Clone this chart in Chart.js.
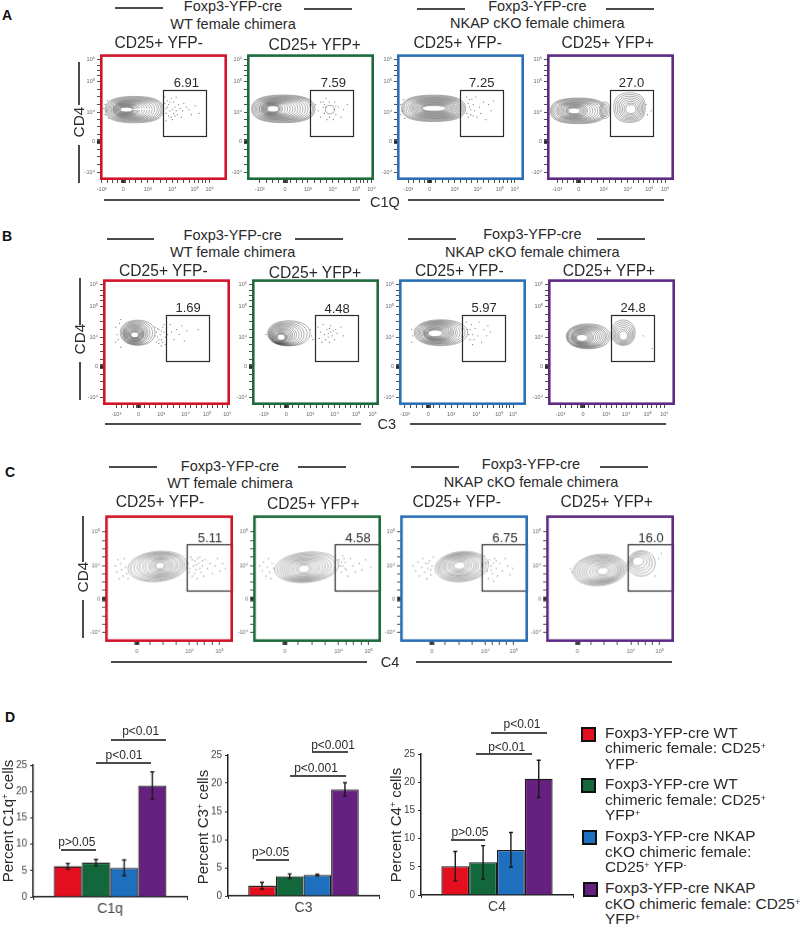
<!DOCTYPE html>
<html>
<head>
<meta charset="utf-8">
<title>Complement staining in chimeras</title>
<script src="https://cdn.jsdelivr.net/npm/chart.js@4/dist/chart.umd.min.js"></script>
<style>
html, body { margin: 0; padding: 0; background: #fff; }
#page { position: relative; width: 800px; height: 927px; overflow: hidden; font-family: "Liberation Sans", Arial, sans-serif; color: #2a2a2a; }
#page canvas { position: absolute; }
.txt { position: absolute; white-space: nowrap; transform: translate(-50%, -50%); line-height: 1; }
.txt sup, .leg sup { font-size: 58%; line-height: 0; vertical-align: 0.5em; }
.rule { position: absolute; background: #4a4a4a; }
.leg { position: absolute; left: 605px; font-size: 15.4px; line-height: 15.6px; white-space: nowrap; }
.sq { position: absolute; box-sizing: border-box; width: 15px; height: 15px; border: 2.5px solid #111; }
</style>
</head>
<body>
<div id="page"></div>
<script>
// ---- panel D values ----
const groupLabels = ['WT YFP-', 'WT YFP+', 'NKAP cKO YFP-', 'NKAP cKO YFP+'];
const c1qValues = [5.8, 6.5, 5.5, 21.1];
const c1qErrors = [0.55, 0.6, 1.5, 2.6];
const c3Values = [1.8, 3.5, 3.7, 18.9];
const c3Errors = [0.6, 0.4, 0.15, 1.2];
const c4Values = [5.1, 5.8, 8.0, 20.6];
const c4Errors = [2.6, 2.95, 3.07, 3.3];
const barColors = ['#e30f1e', '#12683a', '#1f6fbf', '#66207f'];

// ---- flow panels: gate percentages, A to C, left to right ----
const gateA = ['6.91', '7.59', '7.25', '27.0'];
const gateB = ['1.69', '4.48', '5.97', '24.8'];
const gateC = ['5.11', '4.58', '6.75', '16.0'];
const frameColors = ['#d2142a', '#1d6b3d', '#2b70b5', '#5e2a84'];

// tick positions on the 0-100 display axis
const yTicksAB = [95.5, 78.5, 54, 30.4, 6.3];
const yLabelsAB = ['10⁶', '10⁵', '10⁴', '0', '-10⁴'];
const yTicksC = [87, 60.3, 34, 7.3];
const yLabelsC = ['10⁵', '10⁴', '0', '-10⁴'];
const xLabelsAB = ['-10³', '0', '10³', '10⁴', '10⁵', '10⁶'];
const xLabelsC = ['0', '10⁴', '10⁵'];
const xTicksA = [[1.3, 18.4, 37.6, 57, 74.5, 86.3], [10, 30, 48, 67.5, 86, 98], [8.9, 25.8, 45.3, 63.5, 81, 92.7], [8, 25, 44.5, 63.6, 80.6, 93]];
const xTicksB = [[10.5, 28, 45.8, 65, 82, 97.9], [9.2, 27, 45.8, 65, 82, 95], [4.7, 23, 41, 61, 79, 90], [9.7, 27.5, 45.8, 61.5, 78.5, 91.6]];
const xTicksC = [[24.9, 66, 89.5], [24.9, 66.8, 90.3], [24.8, 66.6, 88.8], [24.5, 66.3, 88.8]];

// gates: x0, x1, y0, y1
const gateBoxAB = [49.4, 83.2, 35.2, 71.4];
const gateBoxC = [63.4, 98.7, 40.5, 77];
const gateTextA = [[68, 76.7], [68, 76.7], [66.7, 76.7], [66.5, 76.7]];
const gateTextB = [[67, 77], [67, 76], [67, 76.5], [67, 76.5]];
const gateTextC = [[82, 82], [82, 82], [82, 82], [82, 82]];

// contour rings: cx, cy, rx, ry
const a1Rings = [[27,56,23,10.5],[27,56,22,9.8],[27,56,21,9.2],[26.75,56,19.75,8.6],[26.5,56,18.5,8],[26,56,17,7.5],[25.5,56,15.5,7],[24.75,56,14.25,6.5],[24,56,13,6],[23.25,56,11.75,5.5],[22.5,56,10.5,5],[21.75,56,9.25,4.6],[21.5,56,8.5,4.2],[21.25,56,7.75,3.8],[21,56,7,3.4],[20.75,56,6.25,3],[20.75,56,5.75,2.6],[20.75,56,5.25,2.2],[20.75,56,4.75,1.8]];
const a2Rings = [[28.6,56.6,24.9,11],[28.5,56.6,24,10.4],[28.5,56.6,23,9.8],[28.25,56.6,21.75,9.2],[27.75,56.6,20.25,8.7],[27.25,56.6,18.75,8.2],[26.75,56.6,17.25,7.7],[26,56.6,16,7.2],[25.5,56.6,14.5,6.7],[24.75,56.6,13.25,6.2],[24,56.6,12,5.7],[23.25,56.6,10.75,5.2],[22.5,56.6,9.5,4.8],[21.75,56.6,8.25,4.4],[21,56.6,7,4],[20.75,56.6,6.25,3.6],[20.5,56.6,5.5,3.2],[20.5,56.6,5,2.8],[20.5,56.6,4.5,2.4],[65.3,56,3.4,3.4]];
const a3Rings = [[28.8,57,25.2,10.5],[28.75,57,24.25,9.9],[28.75,57,23.25,9.3],[29,57,22,8.7],[29.25,57,20.75,8.2],[29.5,57,19.5,7.7],[29.5,57,18.5,7.2],[29.5,57,17.5,6.7],[29.5,57,16.5,6.2],[29.5,57,15.5,5.7],[29.5,57,14.5,5.2],[29.5,57,13.5,4.7],[29.5,57,12.5,4.2],[29.5,57,11.5,3.7],[29.5,57,10.5,3.2],[29.25,57,9.75,2.7],[29,57,9,2.2]];
const a4Rings = [[24.8,55,22.2,10.2],[24.75,55,21.25,9.6],[24.75,55,20.25,9],[24.75,55,19.25,8.4],[24.5,55,17.5,7.8],[24,55,16,7.2],[23.5,55,14.5,6.7],[23,55,13,6.2],[22.5,55,11.5,5.7],[22,55,10,5.2],[22,55,9,4.7],[22,55,8,4.2],[22,55,7,3.7],[21.75,55,6.25,3.2],[21.5,55,5.5,2.7],[21.5,55,4.5,2.2],[45.5,55.5,3.8,6.5],[45.5,55.5,2.6,5],[65,57.6,12.4,11.8],[65.2,57.4,11.2,10.6],[65.4,57.2,10,9.4],[65.6,57,8.8,8.2],[65.7,56.8,7.6,7],[65.8,56.6,6.4,5.8],[65.9,56.5,5.2,4.6],[66,56.4,4,3.5]];
const b1Rings = [[27.3,57.5,13.7,10],[26.75,57.3,12.25,9.4],[26.25,57.2,10.75,8.8],[25.75,57,9.75,8.2],[25.5,56.9,9,7.6],[25.25,56.8,8.25,7],[25,56.7,7.5,6.5],[25,56.6,7,6],[25,56.5,6.5,5.5],[25,56.4,6,5],[25,56.3,5.5,4.5],[25,56.2,5,4],[25,56.1,4.5,3.5],[25,56,4,3],[25,55.9,3.5,2.6],[25,55.8,3,2.2]];
const b2Rings = [[29,57,16.7,10],[28.25,56.7,15.25,9.4],[27.25,56.4,13.75,8.8],[26.5,56.2,12.5,8.2],[25.75,56,11.25,7.7],[25,55.7,10,7.2],[24.5,55.5,9,6.7],[24,55.2,8,6.2],[23.75,55,7.25,5.7],[23.5,54.8,6.5,5.2],[23.25,54.6,5.75,4.7],[23,54.4,5,4.2],[23,54.2,4.5,3.7],[23,54,4,3.2],[23,54,3.5,2.8],[23,54,3,2.4]];
const b3Rings = [[33,57.5,21,10.3],[32.5,57.5,19.5,9.7],[32,57.5,18,9.1],[31.5,57.5,16.5,8.6],[31,57.5,15,8.1],[30.75,57.5,13.75,7.6],[30.5,57.5,12.5,7.1],[30.5,57.5,11.5,6.6],[30.25,57.4,10.75,6.1],[30,57.3,10,5.6],[29.75,57.2,9.25,5.1],[29.5,57.1,8.5,4.6],[29.25,57,7.75,4.1],[29,57,7,3.6],[28.75,57,6.25,3.1],[28.5,57,5.5,2.6]];
const b4Rings = [[31.7,54.6,17.3,9.9],[31.25,54.5,16.25,9.3],[30.75,54.4,15.25,8.7],[30.5,54.3,14.5,8.2],[30.25,54.2,13.25,7.7],[30,54.1,12,7.2],[29.5,54,11,6.7],[29,54,10,6.2],[28.5,53.9,9,5.7],[28,53.8,8,5.2],[27.75,53.7,7.25,4.7],[27.5,53.6,6.5,4.2],[27.25,53.5,5.75,3.7],[27,53.4,5,3.2],[26.75,53.4,4.25,2.7],[59.2,57.5,9.4,10.1],[59.3,57.1,8.3,9],[59.3,56.7,7.3,7.9],[59.3,56.3,6.3,6.8],[59.4,55.9,5.3,5.7],[59.4,55.5,4.3,4.6],[59.4,55.2,3.3,3.5]];
const c1Rings = [[41,59.6,23,11.8],[41,59.6,21,11],[41.5,59.8,19,10.2],[42,60,17,9.4],[42,60,15,8.6],[42.5,60,13,7.8],[42.5,60,11,7],[43,60,9,6.2],[43,60.2,7.5,5.4],[43,60.3,6,4.5],[43,60.3,4.5,3.5],[43,60.3,3.5,2.6]];
const c2Rings = [[41.9,59,25,11.8],[41.5,58.8,22.5,11],[41,58.6,20,10.2],[40.7,58.4,18,9.4],[40.5,58.2,16,8.6],[40.3,58,14,7.8],[40,58,12,7],[40,57.8,10,6.2],[39.8,57.7,8,5.2],[39.8,57.7,6,4.2],[39.8,57.7,4.5,3.2]];
const c3Rings = [[48.2,59.5,20.8,11.8],[48,59.5,19,11],[47.7,59.7,17.5,10.2],[47.5,59.8,16,9.4],[47.2,60,14,8.6],[47,60,12.5,7.8],[46.8,60,11,7],[46.7,60.2,9,6],[46.5,60.3,7.5,5],[46.5,60.3,6,4],[46.5,60.3,4.5,3]];
const c4Rings = [[42,56.8,21,12.2],[42,56.8,19.5,11.4],[42.3,56.7,18,10.6],[42.6,56.6,16.5,9.8],[43,56.4,15,9],[43.3,56.3,13.5,8.2],[43.6,56.2,12,7.4],[44,56,10,6.4],[44.2,56,8,5.4],[44.4,56,6,4.2],[44.4,56,4.5,3],[74.5,62,10.8,10],[74,62.5,9,8.5],[73.5,63,7.5,6.8],[72.8,63.4,6,5.2],[72,63.7,4.5,3.6]];

// white hot centres: cx, cy, rx, ry
const a1Core = [[20.5,56,4,1.1],[33,56.2,8,0.7]];
const a2Core = [[20.7,56.5,2.6,1.2],[65.3,56,2.6,2.6]];
const a3Core = [[25,57,5,0.9],[33,57,5,0.6]];
const a4Core = [[21,55,2.6,1],[66,56.3,1.2,1.1]];
const b1Core = [[25.4,55.8,1,1.2]];
const b2Core = [[23.6,54,1.3,0.8]];
const b3Core = [[29,57,3,0.8]];
const b4Core = [[28.3,53.4,2.2,0.8],[59.4,55,1,0.9]];
const c1Core = [[43,60.3,2,1.1]];
const c2Core = [[39.8,57.7,2.2,1.1]];
const c3Core = [[46.5,60.3,1.8,1]];
const c4Core = [[44.4,56,1.5,1],[71.8,63.7,2.2,1.4]];

// single events outside the contours, read by eye
const a1Dots = [[51,66],[53,63],[54,60],[52,57],[55,55],[54,51],[56,50],[58,62],[59,58],[60,55],[58,53],[61,52],[62,60],[63,57],[65,55],[64,50],[66,61],[68,58],[70,56],[72,52],[75,59],[78,53],[56,65],[60,66],[50,49],[52,47],[51,61],[52,53],[53,58],[55,62],[57,56],[57,48],[59,51],[4,60],[5,55],[4,52],[6,63],[3,57],[7,49]];
const a2Dots = [[54,60],[56,55],[58,62],[58,50],[60,58],[61,53],[62,65],[63,48],[69,62],[70,52],[72,58],[74,50],[76,56],[79,60],[68,48],[65,62],[65,50],[62,58],[60,62],[61,60],[69,56],[70,59]];
const a3Dots = [[55,66],[56,61],[57,58],[55,53],[58,52],[59,64],[60,60],[61,55],[63,50],[62,66],[65,58],[66,53],[68,62],[70,48],[72,60],[74,55],[76,63],[56,50],[57,64],[58,56],[60,51],[3,60],[4,55],[3,52],[5,64],[6,49]];
const a4Dots = [[78,60],[79,52],[50,48],[82,55]];
const b1Dots = [[41,62],[42,58],[43,54],[44,60],[45,56],[46,52],[47,62],[48,58],[49,54],[42,50],[44,49],[46,47],[41,55],[43,61],[44,52],[46,59],[47,50],[48,64],[49,48],[50,60],[51,56],[53,64],[54,58],[56,52],[58,60],[60,56],[62,63],[64,51],[66,59],[75,60],[10,62],[11,56],[12,52],[13,65],[10,50],[14,46],[14,68]];
const b2Dots = [[46,60],[47,55],[48,52],[50,58],[52,62],[53,53],[54,58],[55,50],[56,64],[57,56],[58,52],[59,60],[60,57],[61,50],[62,63],[63,55],[64,59],[65,52],[66,60],[67,57],[70,62],[72,55],[60,54],[62,58],[61,61],[11,56]];
const b3Dots = [[53,66],[54,60],[55,56],[56,52],[57,64],[58,48],[60,61],[62,55],[63,66],[65,50],[67,60],[69,55],[70,63],[72,58],[56,60],[58,56],[59,52],[10,60],[11,55],[10,50]];
const b4Dots = [[75,55],[82,45]];
const c1Dots = [[8,60],[9,55],[10,65],[11,50],[12,62],[13,57],[14,52],[15,66],[16,59],[17,54],[18,50],[65,62],[66,55],[67,67],[68,52],[69,60],[70,64],[71,57],[72,50],[73,62],[74,67],[75,55],[76,60],[77,52],[78,65],[80,58],[82,62],[84,54],[86,60],[88,66],[90,56],[92,62],[94,58],[66,58],[68,65],[70,54],[71,61],[72,66],[74,58],[76,64]];
const c2Dots = [[5,60],[7,56],[8,63],[10,52],[11,59],[12,66],[13,55],[14,50],[15,62],[16,58],[67,65],[68,60],[69,55],[70,68],[72,63],[73,57],[74,52],[76,66],[78,60],[80,55],[83,62],[85,57],[88,65],[92,59],[69,63],[70,60],[71,66],[72,58]];
const c3Dots = [[10,60],[12,56],[14,63],[15,52],[17,59],[18,66],[19,55],[20,62],[21,50],[22,58],[23,64],[24,53],[25,60],[26,67],[22,62],[24,57],[66,68],[67,62],[68,56],[69,50],[70,65],[71,60],[72,54],[73,48],[74,66],[75,58],[76,52],[78,62],[80,56],[82,66],[84,60],[86,53],[88,58],[69,63],[71,57],[73,62],[75,64]];
const c4Dots = [[19,58],[20,55],[88,66],[90,70],[85,52]];

// ---- layout (pixels on the page) ----
const frameX = [[100, 247, 397, 547], [102.7, 251.7, 399, 548.3], [105, 253.3, 400, 546]];
const frameY = [53, 278.3, 514.3];
const frameSize = [127, 127, 127.5];
const ringRoundness = [0.68, 0.6, 0.56];
const ringTilt = [0, 0, -0.1];
const axisLeft = 22, axisBottom = 18, padTop = 4, padRight = 6;

const page = document.getElementById('page');

function addText(x, y, html, size, extra) {
    const d = document.createElement('div');
    d.className = 'txt';
    d.innerHTML = html;
    d.style.left = x + 'px';
    d.style.top = y + 'px';
    d.style.fontSize = size + 'px';
    if (extra) Object.assign(d.style, extra);
    page.appendChild(d);
}

function hRule(x1, x2, y) {
    const d = document.createElement('div');
    d.className = 'rule';
    d.style.cssText = `left:${x1}px;top:${Math.round(y - 1)}px;width:${x2 - x1}px;height:2px`;
    page.appendChild(d);
}

function vRule(x, y1, y2) {
    const d = document.createElement('div');
    d.className = 'rule';
    d.style.cssText = `left:${Math.round(x - 1)}px;top:${y1}px;width:2px;height:${y2 - y1}px`;
    page.appendChild(d);
}

function addCanvas(x, y, w, h) {
    const c = document.createElement('canvas');
    c.width = w;
    c.height = h;
    c.style.cssText = `left:${x}px;top:${y}px;width:${w}px;height:${h}px`;
    page.appendChild(c);
    return c.getContext('2d');
}

function blobPath(ctx, x, y, rx, ry, k, tilt) {
    ctx.save();
    ctx.translate(x, y);
    ctx.rotate(tilt);
    ctx.beginPath();
    ctx.moveTo(-rx, 0);
    ctx.bezierCurveTo(-rx, -k * ry, -k * rx, -ry, 0, -ry);
    ctx.bezierCurveTo(k * rx, -ry, rx, -k * ry, rx, 0);
    ctx.bezierCurveTo(rx, k * ry, k * rx, ry, 0, ry);
    ctx.bezierCurveTo(-k * rx, ry, -rx, k * ry, -rx, 0);
    ctx.closePath();
    ctx.restore();
}

// draws rings, gate and frame through the chart's scales
const flowPlugin = {
    id: 'flowPlugin',
    afterDatasetsDraw(chart, args, o) {
        const ctx = chart.ctx, sx = chart.scales.x, sy = chart.scales.y, a = chart.chartArea;
        const px = v => sx.getPixelForValue(v), py = v => sy.getPixelForValue(v);
        ctx.save();
        ctx.strokeStyle = 'rgba(50,50,50,0.7)';
        ctx.lineWidth = 0.55;
        o.rings.forEach(([cx, cy, rx, ry]) => {
            blobPath(ctx, px(cx), py(cy), px(cx + rx) - px(cx), py(cy) - py(cy + ry), o.roundness, o.tilt);
            ctx.stroke();
        });
        ctx.fillStyle = '#fff';
        o.core.forEach(([cx, cy, rx, ry]) => {
            blobPath(ctx, px(cx), py(cy), px(cx + rx) - px(cx), py(cy) - py(cy + ry), 0.56, o.tilt);
            ctx.fill();
        });
        const [x0, x1, y0, y1] = o.gate;
        const gx = Math.round(px(x0)) + 0.5, gy = Math.round(py(y1)) + 0.5;
        ctx.strokeStyle = '#2b2b2b';
        ctx.lineWidth = 1.2;
        ctx.strokeRect(gx, gy, Math.round(px(x1) - px(x0)), Math.round(py(y0) - py(y1)));
        ctx.fillStyle = '#2a2a2a';
        ctx.font = '13px "Liberation Sans"';
        ctx.textAlign = 'center';
        ctx.textBaseline = 'middle';
        ctx.fillText(o.label, px(o.labelAt[0]), py(o.labelAt[1]));
        ctx.strokeStyle = o.color;
        ctx.lineWidth = 2.6;
        ctx.strokeRect(a.left + 1.3, a.top + 1.3, a.right - a.left - 2.6, a.bottom - a.top - 2.6);
        ctx.restore();
    }
};

function minorTicks(majors, zero) {
    const out = majors.slice();
    for (let i = 0; i < majors.length - 1; i++) {
        const step = (majors[i + 1] - majors[i]) / 4;
        for (let k = 1; k < 4; k++) out.push(majors[i] + step * k);
    }
    [-1.6, -0.9, -0.3, 0.3, 0.9, 1.6].forEach(d => out.push(zero + d));
    return out;
}

function flowPanel(x, y, size, p) {
    const xLabelFor = new Map(p.xTicks.map((v, i) => [v, p.xLabels[i]]));
    const yLabelFor = new Map(p.yTicks.map((v, i) => [v, p.yLabels[i]]));
    const xAll = minorTicks(p.xTicks, p.xZero);
    const yAll = minorTicks(p.yTicks, p.yZero);
    const w = size + axisLeft + padRight, h = size + axisBottom + padTop;
    const ctx = addCanvas(x - axisLeft, y - padTop, w, h);
    const tickFont = { family: 'Liberation Sans', size: 5.5 };
    new Chart(ctx, {
        type: 'scatter',
        data: { datasets: [{ data: p.dots.map(([a, b]) => ({ x: a, y: b })), pointRadius: 0.6, pointBackgroundColor: '#777', pointBorderWidth: 0 }] },
        options: {
            responsive: false,
            animation: false,
            layout: { autoPadding: false, padding: { top: padTop, right: padRight, left: 0, bottom: 0 } },
            plugins: { legend: { display: false }, tooltip: { enabled: false }, flowPlugin: p.draw },
            scales: {
                x: {
                    type: 'linear', min: 0, max: 100,
                    afterBuildTicks: s => { s.ticks = xAll.map(v => ({ value: v })); },
                    afterFit: s => { s.height = axisBottom; },
                    border: { display: false },
                    grid: { drawOnChartArea: false, tickLength: 3, color: '#222', lineWidth: 0.8 },
                    ticks: { autoSkip: false, maxRotation: 0, minRotation: 0, padding: 3, color: '#666', font: tickFont, callback: v => xLabelFor.get(v) || '' }
                },
                y: {
                    type: 'linear', min: 0, max: 100,
                    afterBuildTicks: s => { s.ticks = yAll.map(v => ({ value: v })); },
                    afterFit: s => { s.width = axisLeft; },
                    border: { display: false },
                    grid: { drawOnChartArea: false, tickLength: 3, color: '#222', lineWidth: 0.8 },
                    ticks: { autoSkip: false, maxRotation: 0, minRotation: 0, padding: 2, color: '#666', font: tickFont, callback: v => yLabelFor.get(v) || '' }
                }
            }
        },
        plugins: [flowPlugin]
    });
}

const ringsByRow = [[a1Rings, a2Rings, a3Rings, a4Rings], [b1Rings, b2Rings, b3Rings, b4Rings], [c1Rings, c2Rings, c3Rings, c4Rings]];
const coreByRow = [[a1Core, a2Core, a3Core, a4Core], [b1Core, b2Core, b3Core, b4Core], [c1Core, c2Core, c3Core, c4Core]];
const dotsByRow = [[a1Dots, a2Dots, a3Dots, a4Dots], [b1Dots, b2Dots, b3Dots, b4Dots], [c1Dots, c2Dots, c3Dots, c4Dots]];
const gatesByRow = [gateA, gateB, gateC];
const gateTextByRow = [gateTextA, gateTextB, gateTextC];
const xTicksByRow = [xTicksA, xTicksB, xTicksC];

for (let row = 0; row < 3; row++) {
    for (let col = 0; col < 4; col++) {
        const isC = row === 2;
        const xTicks = xTicksByRow[row][col];
        flowPanel(frameX[row][col], frameY[row], frameSize[row], {
            xTicks: xTicks,
            xLabels: isC ? xLabelsC : xLabelsAB,
            xZero: isC ? xTicks[0] : xTicks[1],
            yTicks: isC ? yTicksC : yTicksAB,
            yLabels: isC ? yLabelsC : yLabelsAB,
            yZero: isC ? yTicksC[2] : yTicksAB[3],
            dots: dotsByRow[row][col],
            draw: {
                rings: ringsByRow[row][col],
                core: coreByRow[row][col],
                roundness: ringRoundness[row],
                tilt: ringTilt[row],
                gate: isC ? gateBoxC : gateBoxAB,
                label: gatesByRow[row][col],
                labelAt: gateTextByRow[row][col],
                color: frameColors[col]
            }
        });
    }
}

// ---- bars with error bars ----
const errorBarPlugin = {
    id: 'errorBarPlugin',
    afterDatasetsDraw(chart) {
        const ctx = chart.ctx, sy = chart.scales.y;
        ctx.save();
        ctx.strokeStyle = '#1a1a1a';
        ctx.lineWidth = 1.4;
        chart.data.datasets.forEach((ds, i) => {
            const bar = chart.getDatasetMeta(i).data[0];
            const top = sy.getPixelForValue(ds.data[0] + ds.errorBar);
            const bottom = sy.getPixelForValue(ds.data[0] - ds.errorBar);
            ctx.beginPath();
            ctx.moveTo(bar.x, top);
            ctx.lineTo(bar.x, bottom);
            ctx.moveTo(bar.x - 2, top);
            ctx.lineTo(bar.x + 2, top);
            ctx.moveTo(bar.x - 2, bottom);
            ctx.lineTo(bar.x + 2, bottom);
            ctx.stroke();
        });
        ctx.restore();
    }
};

function barChart(x0, x1, yTop, yZero, category, values, errors) {
    const left = 24, right = 4, top = 6, bottom = 22;
    const ctx = addCanvas(x0 - left, yTop - top, x1 - x0 + left + right, yZero - yTop + top + bottom);
    new Chart(ctx, {
        type: 'bar',
        data: {
            labels: [category],
            datasets: values.map((v, i) => ({
                label: groupLabels[i],
                data: [v],
                errorBar: errors[i],
                backgroundColor: barColors[i],
                borderColor: '#1a1a1a',
                borderWidth: 1.3
            }))
        },
        options: {
            responsive: false,
            animation: false,
            layout: { autoPadding: false, padding: { top: top, right: right, left: 0, bottom: 0 } },
            plugins: { legend: { display: false }, tooltip: { enabled: false } },
            datasets: { bar: { barPercentage: 1, categoryPercentage: 0.732 } },
            scales: {
                x: {
                    afterFit: s => { s.height = bottom; },
                    border: { color: '#222', width: 1.5 },
                    grid: { drawOnChartArea: false, tickLength: 3, color: '#222' },
                    ticks: { color: '#444', padding: 1, font: { family: 'Liberation Sans', size: 14 } }
                },
                y: {
                    min: 0, max: 25,
                    afterFit: s => { s.width = left; },
                    border: { color: '#222', width: 1.5 },
                    grid: { drawOnChartArea: false, tickLength: 3, color: '#222' },
                    ticks: { stepSize: 5, color: '#444', padding: 3, font: { family: 'Liberation Sans', size: 10 } }
                }
            }
        },
        plugins: [errorBarPlugin]
    });
}

barChart(33.2, 186.7, 762.3, 897, 'C1q', c1qValues, c1qErrors);
barChart(227.8, 379.5, 752.3, 896, 'C3', c3Values, c3Errors);
barChart(420.7, 573, 751, 895, 'C4', c4Values, c4Errors);

// ---- text and rules around the panels ----
addText(7, 15, 'A', 14, { fontWeight: 'bold', color: '#111' });
addText(7, 236, 'B', 14, { fontWeight: 'bold', color: '#111' });
addText(10, 472, 'C', 14, { fontWeight: 'bold', color: '#111' });
addText(10, 717, 'D', 14, { fontWeight: 'bold', color: '#111' });

const headerText = [
    ['Foxp3-YFP-cre', 233, 6], ['WT female chimera', 233, 24], ['Foxp3-YFP-cre', 537.3, 6], ['NKAP cKO female chimera', 537.3, 23.3],
    ['Foxp3-YFP-cre', 232.7, 234.7], ['WT female chimera', 232.7, 252.3], ['Foxp3-YFP-cre', 532.3, 234.3], ['NKAP cKO female chimera', 532.3, 251.7],
    ['Foxp3-YFP-cre', 230, 465.7], ['WT female chimera', 230, 483.3], ['Foxp3-YFP-cre', 531, 464], ['NKAP cKO female chimera', 531, 481.7]
];
headerText.forEach(([t, x, y]) => addText(x, y, t, 14.5));

const subsetText = [
    ['CD25+ YFP-', 158.7, 43], ['CD25+ YFP+', 314.7, 45], ['CD25+ YFP-', 457.7, 43.3], ['CD25+ YFP+', 607.7, 43.3],
    ['CD25+ YFP-', 163.3, 271], ['CD25+ YFP+', 315, 273.3], ['CD25+ YFP-', 459.3, 271.3], ['CD25+ YFP+', 609, 271.3],
    ['CD25+ YFP-', 160, 501.7], ['CD25+ YFP+', 313.3, 504.3], ['CD25+ YFP-', 456.7, 502.3], ['CD25+ YFP+', 606.7, 502.3]
];
subsetText.forEach(([t, x, y]) => addText(x, y, t, 15.6));

[[115.3, 163.3, 8.3], [304.3, 351.7, 8.7], [416.7, 465, 9], [606, 654, 9],
 [106.7, 154, 239], [295, 342.7, 239], [408.3, 455.7, 239], [597.3, 645, 239],
 [109.3, 157.3, 467.3], [297.7, 345.7, 467.3], [411, 459, 467.3], [600, 647.7, 467.3],
 [104, 360, 200], [408, 664, 200], [105, 361, 424.3], [410, 665.7, 424.3], [110.7, 366.7, 661.7], [415.7, 671.7, 661.7]
].forEach(([a, b, y]) => hRule(a, b, y));

[[78.7, 122], [80, 339.3], [82.7, 576.7]].forEach(([x, y]) => addText(x, y, 'CD4', 15.4, { transform: 'translate(-50%,-50%) rotate(-90deg)' }));
[[78.7, 61.7, 105], [78.7, 145, 183], [80, 278.3, 325], [80, 361.7, 400], [82.7, 515.7, 561.7], [82.7, 600, 637.7]].forEach(([x, a, b]) => vRule(x, a, b));
addText(385, 202, 'C1Q', 14.5);
addText(386.7, 424.3, 'C3', 14.5);
addText(390, 661.7, 'C4', 14.5);

// axis titles and significance brackets of panel D
const rot = { transform: 'translate(-50%,-50%) rotate(-90deg)' };
addText(7, 821, 'Percent C1q<sup>+</sup> cells', 15, rot);
addText(202, 827, 'Percent C3<sup>+</sup> cells', 15, rot);
addText(395, 825, 'Percent C4<sup>+</sup> cells', 15, rot);

[['p&gt;0.05', 76.8, 842], ['p&lt;0.01', 124, 754.7], ['p&lt;0.01', 140.7, 730.7],
 ['p&gt;0.05', 270.6, 852], ['p&lt;0.001', 316, 767.7], ['p&lt;0.001', 333, 745],
 ['p&gt;0.05', 470, 831.7], ['p&lt;0.01', 506.7, 747], ['p&lt;0.01', 522, 724]
].forEach(([t, x, y]) => addText(x, y, t, 12));

[[61.4, 95.7, 850.3], [96.4, 151.4, 763], [110.7, 166, 739.7],
 [256.3, 289, 860.3], [290, 345.6, 775.7], [312.4, 348, 752],
 [451.3, 485.3, 839.7], [476.3, 531.7, 753.7], [491.3, 546.7, 733]
].forEach(([a, b, y]) => hRule(a, b, y));

// legend
const legendBlocks = [
    ['Foxp3-YFP-cre WT<br>chimeric female: CD25<sup>+</sup><br>YFP<sup>-</sup>', 724.5],
    ['Foxp3-YFP-cre WT<br>chimeric female: CD25<sup>+</sup><br>YFP<sup>+</sup>', 776.2],
    ['Foxp3-YFP-cre NKAP<br>cKO chimeric female:<br>CD25<sup>+</sup> YFP<sup>-</sup>', 828.2],
    ['Foxp3-YFP-cre NKAP<br>cKO chimeric female: CD25<sup>+</sup><br>YFP<sup>+</sup>', 880]
];
const legendSquares = [[580.7, 726.7], [580.7, 778], [582, 830], [583.3, 881.7]];
legendBlocks.forEach(([t, y], i) => {
    const d = document.createElement('div');
    d.className = 'leg';
    d.innerHTML = t;
    d.style.top = y + 'px';
    page.appendChild(d);
    const s = document.createElement('div');
    s.className = 'sq';
    s.style.left = legendSquares[i][0] + 'px';
    s.style.top = legendSquares[i][1] + 'px';
    s.style.background = barColors[i];
    page.appendChild(s);
});
</script>
</body>
</html>
